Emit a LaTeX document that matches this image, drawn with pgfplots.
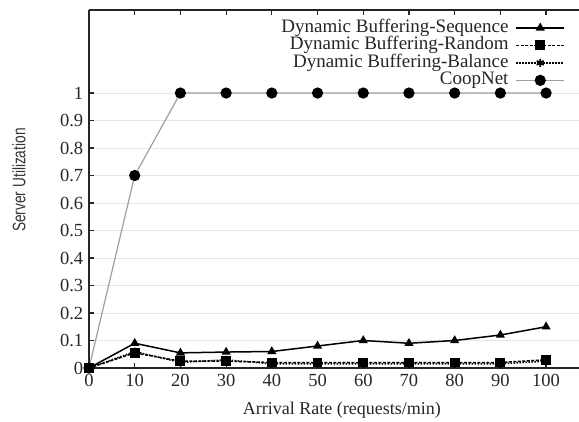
\documentclass[border=0pt]{standalone}
\usepackage{fontspec}
\setmainfont{Liberation Serif}
\newfontfamily\labelsans{Liberation Sans}
\usepackage{pgfplots}
\pgfplotsset{compat=1.18}
\begin{document}
\fontsize{17}{20}\selectfont
\begin{tikzpicture}
\useasboundingbox (-89pt,-53pt) rectangle (490pt,368pt);
\begin{axis}[
  scale only axis, width=490pt, height=358pt,
  anchor=south west, at={(0,0)},
  xmin=0, xmax=107.2, ymin=0, ymax=1.302,
  axis x line=box, axis y line=left,
  axis line style={-, line width=1.3pt, black!85},
  tick align=inside, major tick length=5pt,
  tick style={line width=1.2pt, black!85},
  xtick={0,10,...,100},
  ytick={0,0.1,0.2,0.3,0.4,0.5,0.6,0.7,0.8,0.9,1},
  yticklabels={0,0.1,0.2,0.3,0.4,0.5,0.6,0.7,0.8,0.9,1},
  xticklabels={0,10,20,30,40,50,60,70,80,90,100},
  ymajorgrids, grid style={gray!20, line width=0.8pt},
  ticklabel style={font=\fontsize{18.5}{20}\selectfont, text=black!85},
  xlabel={Arrival Rate (requests/min)},
  ylabel={Server Utilization},
  every axis x label/.style={at={(axis description cs:0.516,0)}, anchor=center, yshift=-42pt, text=black!85, font=\fontsize{18}{20}\selectfont},
  every axis y label/.style={at={([xshift=-70pt]axis description cs:0,0.525)}, anchor=center, rotate=90, xscale=0.76, text=black!80, font=\labelsans\fontsize{18}{20}\selectfont},
  legend style={draw=none, fill=none, at={(0.978,0.98)}, anchor=north east, row sep=0.5pt, column sep=5pt,
    nodes={inner ysep=0pt, text height=13pt, text depth=4pt},
    font=\fontsize{19}{20}\selectfont, text=black!85},
  legend cell align=right, legend plot pos=right,
  legend image code/.code={\draw[mark repeat=2,mark phase=2,#1] plot coordinates {(0pt,0pt) (24pt,0pt) (48pt,0pt)};},
  clip=false,
]
\addplot[black, line width=1.5pt, mark=triangle*, mark size=3.8pt, mark options={solid}] coordinates {
(0,0) (10,0.09) (20,0.055) (30,0.058) (40,0.06) (50,0.08) (60,0.1) (70,0.09) (80,0.1) (90,0.12) (100,0.15)};
\addlegendentry{Dynamic Buffering-Sequence}
\addplot[black, line width=1.5pt, dash pattern=on 3pt off 1.5pt, mark=square*, mark size=4.2pt, mark options={solid}] coordinates {
(0,0) (10,0.055) (20,0.025) (30,0.025) (40,0.02) (50,0.02) (60,0.02) (70,0.02) (80,0.02) (90,0.02) (100,0.03)};
\addlegendentry{Dynamic Buffering-Random}
\addplot[black, line width=1.5pt, dash pattern=on 1.5pt off 1.5pt, mark=asterisk, mark size=4pt, mark options={solid, line width=1.8pt}] coordinates {
(0,0) (10,0.06) (20,0.02) (30,0.03) (40,0.015) (50,0.015) (60,0.015) (70,0.015) (80,0.015) (90,0.015) (100,0.025)};
\addlegendentry{Dynamic Buffering-Balance}
\addplot[gray!75, line width=1.2pt, mark=*, mark size=5pt, mark options={solid, fill=black, draw=black}] coordinates {
(0,0) (10,0.7) (20,1) (30,1) (40,1) (50,1) (60,1) (70,1) (80,1) (90,1) (100,1)};
\addlegendentry{CoopNet}
\end{axis}
\end{tikzpicture}
\end{document}
